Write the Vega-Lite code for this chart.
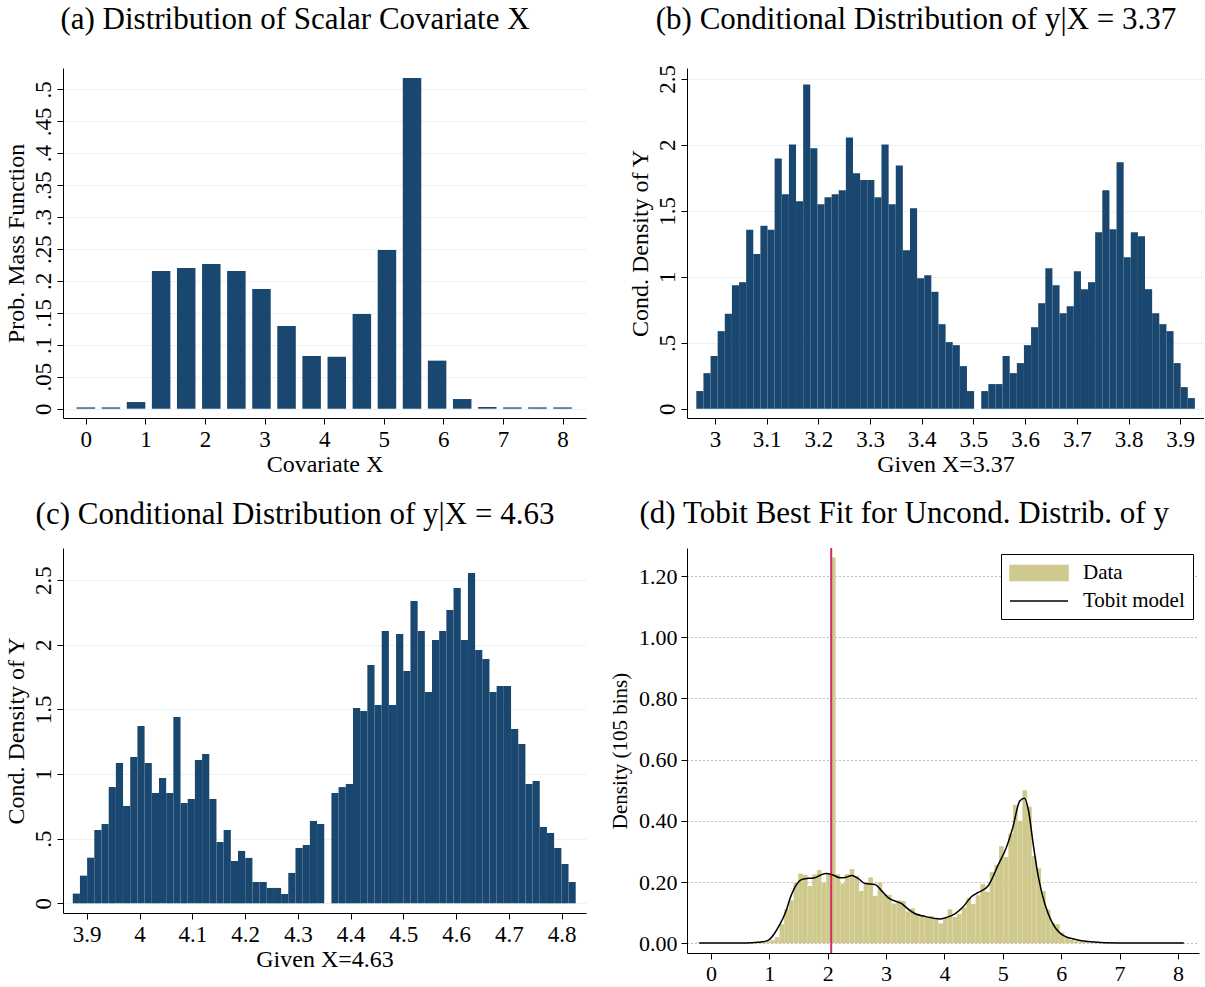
{
  "$schema": "https://vega.github.io/schema/vega-lite/v6.json",
  "padding": {"left": 4, "top": 4, "right": 0, "bottom": 0},
  "autosize": {"type": "pad"},
  "config": {
    "font": "Liberation Serif",
    "view": {"stroke": null},
    "title": {"font": "Liberation Serif", "fontSize": 31, "fontWeight": "normal", "color": "black", "frame": "bounds", "anchor": "middle"},
    "axis": {"labelFont": "Liberation Serif", "titleFont": "Liberation Serif", "labelColor": "black", "titleColor": "black", "domainColor": "black", "tickColor": "black", "tickSize": 6, "titleFontWeight": "normal", "labelFontSize": 23, "titleFontSize": 24, "gridColor": "#eaf2f3", "gridWidth": 1, "labelFlush": false, "labelOverlap": false, "format": "~g"},
    "axisX": {"grid": false, "labelPadding": 4, "titlePadding": 1},
    "axisY": {"grid": true, "labelAngle": -90, "labelAlign": "center", "labelBaseline": "alphabetic", "labelPadding": 7, "titlePadding": 4}
  },
  "datasets": {
    "pmf": [{"x":0,"p":0.002},{"x":0.421,"p":0.002},{"x":0.842,"p":0.0104},{"x":1.263,"p":0.2156},{"x":1.684,"p":0.2203},{"x":2.105,"p":0.2265},{"x":2.526,"p":0.2156},{"x":2.947,"p":0.1874},{"x":3.368,"p":0.1294},{"x":3.789,"p":0.0825},{"x":4.211,"p":0.0814},{"x":4.632,"p":0.1482},{"x":5.053,"p":0.2484},{"x":5.474,"p":0.5177},{"x":5.895,"p":0.0752},{"x":6.316,"p":0.0151},{"x":6.737,"p":0.0026},{"x":7.158,"p":0.002},{"x":7.579,"p":0.002},{"x":8,"p":0.002}],
    "condB": [
      {"lo":2.9640,"hi":2.9778,"d":0.134},{"lo":2.9778,"hi":2.9916,"d":0.27},{"lo":2.9916,"hi":3.0053,"d":0.40},{"lo":3.0053,"hi":3.0191,"d":0.588},{"lo":3.0191,"hi":3.0329,"d":0.72},{"lo":3.0329,"hi":3.0467,"d":0.936},{"lo":3.0467,"hi":3.0604,"d":0.959},{"lo":3.0604,"hi":3.0742,"d":1.357},{"lo":3.0742,"hi":3.0880,"d":1.173},{"lo":3.0880,"hi":3.1018,"d":1.387},
      {"lo":3.1018,"hi":3.1155,"d":1.357},{"lo":3.1155,"hi":3.1293,"d":1.897},{"lo":3.1293,"hi":3.1431,"d":1.625},{"lo":3.1431,"hi":3.1569,"d":2.003},{"lo":3.1569,"hi":3.1707,"d":1.572},{"lo":3.1707,"hi":3.1844,"d":2.457},{"lo":3.1844,"hi":3.1982,"d":1.973},{"lo":3.1982,"hi":3.2120,"d":1.549},{"lo":3.2120,"hi":3.2258,"d":1.602},{"lo":3.2258,"hi":3.2395,"d":1.625},
      {"lo":3.2395,"hi":3.2533,"d":1.655},{"lo":3.2533,"hi":3.2671,"d":2.056},{"lo":3.2671,"hi":3.2809,"d":1.784},{"lo":3.2809,"hi":3.2946,"d":1.733},{"lo":3.2946,"hi":3.3084,"d":1.733},{"lo":3.3084,"hi":3.3222,"d":1.602},{"lo":3.3222,"hi":3.3360,"d":2.003},{"lo":3.3360,"hi":3.3498,"d":1.549},{"lo":3.3498,"hi":3.3635,"d":1.844},{"lo":3.3635,"hi":3.3773,"d":1.201},
      {"lo":3.3773,"hi":3.3911,"d":1.519},{"lo":3.3911,"hi":3.4049,"d":0.989},{"lo":3.4049,"hi":3.4186,"d":1.012},{"lo":3.4186,"hi":3.4324,"d":0.886},{"lo":3.4324,"hi":3.4462,"d":0.641},{"lo":3.4462,"hi":3.4600,"d":0.505},{"lo":3.4600,"hi":3.4737,"d":0.482},{"lo":3.4737,"hi":3.4875,"d":0.323},{"lo":3.4875,"hi":3.5013,"d":0.134},
      {"lo":3.5151,"hi":3.5289,"d":0.134},{"lo":3.5289,"hi":3.5426,"d":0.187},{"lo":3.5426,"hi":3.5564,"d":0.187},{"lo":3.5564,"hi":3.5702,"d":0.40},{"lo":3.5702,"hi":3.5840,"d":0.27},{"lo":3.5840,"hi":3.5977,"d":0.346},{"lo":3.5977,"hi":3.6115,"d":0.482},{"lo":3.6115,"hi":3.6253,"d":0.618},{"lo":3.6253,"hi":3.6391,"d":0.80},{"lo":3.6391,"hi":3.6528,"d":1.065},
      {"lo":3.6528,"hi":3.6666,"d":0.936},{"lo":3.6666,"hi":3.6804,"d":0.724},{"lo":3.6804,"hi":3.6942,"d":0.777},{"lo":3.6942,"hi":3.7080,"d":1.042},{"lo":3.7080,"hi":3.7217,"d":0.906},{"lo":3.7217,"hi":3.7355,"d":0.959},{"lo":3.7355,"hi":3.7493,"d":1.337},{"lo":3.7493,"hi":3.7631,"d":1.655},{"lo":3.7631,"hi":3.7768,"d":1.36},{"lo":3.7768,"hi":3.7906,"d":1.867},
      {"lo":3.7906,"hi":3.8044,"d":1.148},{"lo":3.8044,"hi":3.8182,"d":1.337},{"lo":3.8182,"hi":3.8319,"d":1.307},{"lo":3.8319,"hi":3.8457,"d":0.906},{"lo":3.8457,"hi":3.8595,"d":0.724},{"lo":3.8595,"hi":3.8733,"d":0.641},{"lo":3.8733,"hi":3.8871,"d":0.588},{"lo":3.8871,"hi":3.9008,"d":0.346},{"lo":3.9008,"hi":3.9146,"d":0.164},{"lo":3.9146,"hi":3.9284,"d":0.081}
    ],
    "condC": [
      {"lo":3.8735,"hi":3.8871,"d":0.075},{"lo":3.8871,"hi":3.9007,"d":0.214},{"lo":3.9007,"hi":3.9143,"d":0.353},{"lo":3.9143,"hi":3.9280,"d":0.567},{"lo":3.9280,"hi":3.9416,"d":0.613},{"lo":3.9416,"hi":3.9552,"d":0.899},{"lo":3.9552,"hi":3.9688,"d":1.085},{"lo":3.9688,"hi":3.9824,"d":0.753},{"lo":3.9824,"hi":3.9960,"d":1.131},{"lo":3.9960,"hi":4.0096,"d":1.371},
      {"lo":4.0096,"hi":4.0233,"d":1.085},{"lo":4.0233,"hi":4.0369,"d":0.853},{"lo":4.0369,"hi":4.0505,"d":0.969},{"lo":4.0505,"hi":4.0641,"d":0.853},{"lo":4.0641,"hi":4.0777,"d":1.441},{"lo":4.0777,"hi":4.0913,"d":0.776},{"lo":4.0913,"hi":4.1049,"d":0.807},{"lo":4.1049,"hi":4.1186,"d":1.108},{"lo":4.1186,"hi":4.1322,"d":1.155},{"lo":4.1322,"hi":4.1458,"d":0.807},
      {"lo":4.1458,"hi":4.1594,"d":0.474},{"lo":4.1594,"hi":4.1730,"d":0.567},{"lo":4.1730,"hi":4.1866,"d":0.327},{"lo":4.1866,"hi":4.2002,"d":0.405},{"lo":4.2002,"hi":4.2139,"d":0.351},{"lo":4.2139,"hi":4.2275,"d":0.165},{"lo":4.2275,"hi":4.2411,"d":0.165},{"lo":4.2411,"hi":4.2547,"d":0.119},{"lo":4.2547,"hi":4.2683,"d":0.119},{"lo":4.2683,"hi":4.2819,"d":0.072},
      {"lo":4.2819,"hi":4.2955,"d":0.235},{"lo":4.2955,"hi":4.3092,"d":0.428},{"lo":4.3092,"hi":4.3228,"d":0.451},{"lo":4.3228,"hi":4.3364,"d":0.637},{"lo":4.3364,"hi":4.3500,"d":0.613},
      {"lo":4.3636,"hi":4.3772,"d":0.853},{"lo":4.3772,"hi":4.3908,"d":0.899},{"lo":4.3908,"hi":4.4045,"d":0.923},{"lo":4.4045,"hi":4.4181,"d":1.510},
      {"lo":4.4181,"hi":4.4317,"d":1.487},{"lo":4.4317,"hi":4.4453,"d":1.843},{"lo":4.4453,"hi":4.4589,"d":1.534},{"lo":4.4589,"hi":4.4725,"d":2.106},{"lo":4.4725,"hi":4.4861,"d":1.534},{"lo":4.4861,"hi":4.4998,"d":2.082},{"lo":4.4998,"hi":4.5134,"d":1.796},{"lo":4.5134,"hi":4.5270,"d":2.338},{"lo":4.5270,"hi":4.5406,"d":2.106},{"lo":4.5406,"hi":4.5542,"d":1.634},
      {"lo":4.5542,"hi":4.5678,"d":2.036},{"lo":4.5678,"hi":4.5814,"d":2.106},{"lo":4.5814,"hi":4.5950,"d":2.268},{"lo":4.5950,"hi":4.6087,"d":2.438},{"lo":4.6087,"hi":4.6223,"d":2.036},{"lo":4.6223,"hi":4.6359,"d":2.554},{"lo":4.6359,"hi":4.6495,"d":1.959},{"lo":4.6495,"hi":4.6631,"d":1.889},{"lo":4.6631,"hi":4.6767,"d":1.634},{"lo":4.6767,"hi":4.6903,"d":1.68},
      {"lo":4.6903,"hi":4.7040,"d":1.68},{"lo":4.7040,"hi":4.7176,"d":1.348},{"lo":4.7176,"hi":4.7312,"d":1.232},{"lo":4.7312,"hi":4.7448,"d":0.923},{"lo":4.7448,"hi":4.7584,"d":0.946},{"lo":4.7584,"hi":4.7720,"d":0.590},{"lo":4.7720,"hi":4.7856,"d":0.544},{"lo":4.7856,"hi":4.7993,"d":0.428},{"lo":4.7993,"hi":4.8129,"d":0.304},{"lo":4.8129,"hi":4.8265,"d":0.165}
    ],
    "hist": [
      {"a":-0.265,"b":-0.185,"d":0.002},{"a":-0.185,"b":-0.105,"d":0.002},{"a":-0.105,"b":-0.025,"d":0.002},{"a":-0.025,"b":0.055,"d":0.002},{"a":0.055,"b":0.135,"d":0.002},{"a":0.135,"b":0.215,"d":0.002},{"a":0.215,"b":0.295,"d":0.002},{"a":0.295,"b":0.375,"d":0.002},{"a":0.375,"b":0.455,"d":0.002},{"a":0.455,"b":0.535,"d":0.002},
      {"a":0.535,"b":0.615,"d":0.002},{"a":0.615,"b":0.695,"d":0.002},{"a":0.695,"b":0.775,"d":0.002},{"a":0.775,"b":0.855,"d":0.003},{"a":0.855,"b":0.935,"d":0.005},{"a":0.935,"b":1.015,"d":0.006},{"a":1.015,"b":1.095,"d":0.01},{"a":1.095,"b":1.175,"d":0.02},{"a":1.175,"b":1.255,"d":0.062},{"a":1.255,"b":1.335,"d":0.111},
      {"a":1.335,"b":1.415,"d":0.14},{"a":1.415,"b":1.495,"d":0.198},{"a":1.495,"b":1.575,"d":0.228},{"a":1.575,"b":1.655,"d":0.223},{"a":1.655,"b":1.735,"d":0.187},{"a":1.735,"b":1.815,"d":0.225},{"a":1.815,"b":1.895,"d":0.239},{"a":1.895,"b":1.975,"d":0.198},{"a":1.975,"b":2.055,"d":0.228},{"a":2.055,"b":2.135,"d":1.261},
      {"a":2.135,"b":2.215,"d":0.225},{"a":2.215,"b":2.295,"d":0.195},{"a":2.295,"b":2.375,"d":0.226},{"a":2.375,"b":2.455,"d":0.242},{"a":2.455,"b":2.535,"d":0.22},{"a":2.535,"b":2.615,"d":0.171},{"a":2.615,"b":2.695,"d":0.2},{"a":2.695,"b":2.775,"d":0.215},{"a":2.775,"b":2.855,"d":0.155},{"a":2.855,"b":2.935,"d":0.198},
      {"a":2.935,"b":3.015,"d":0.16},{"a":3.015,"b":3.095,"d":0.158},{"a":3.095,"b":3.175,"d":0.13},{"a":3.175,"b":3.255,"d":0.14},{"a":3.255,"b":3.335,"d":0.138},{"a":3.335,"b":3.415,"d":0.104},{"a":3.415,"b":3.495,"d":0.114},{"a":3.495,"b":3.575,"d":0.095},{"a":3.575,"b":3.655,"d":0.089},{"a":3.655,"b":3.735,"d":0.086},
      {"a":3.735,"b":3.815,"d":0.089},{"a":3.815,"b":3.895,"d":0.078},{"a":3.895,"b":3.975,"d":0.065},{"a":3.975,"b":4.055,"d":0.084},{"a":4.055,"b":4.135,"d":0.111},{"a":4.135,"b":4.215,"d":0.086},{"a":4.215,"b":4.295,"d":0.095},{"a":4.295,"b":4.375,"d":0.117},{"a":4.375,"b":4.455,"d":0.148},{"a":4.455,"b":4.535,"d":0.128},
      {"a":4.535,"b":4.615,"d":0.157},{"a":4.615,"b":4.695,"d":0.193},{"a":4.695,"b":4.775,"d":0.168},{"a":4.775,"b":4.855,"d":0.233},{"a":4.855,"b":4.935,"d":0.256},{"a":4.935,"b":5.015,"d":0.317},{"a":5.015,"b":5.095,"d":0.282},{"a":5.095,"b":5.175,"d":0.358},{"a":5.175,"b":5.255,"d":0.452},{"a":5.255,"b":5.335,"d":0.40},
      {"a":5.335,"b":5.415,"d":0.50},{"a":5.415,"b":5.495,"d":0.446},{"a":5.495,"b":5.575,"d":0.285},{"a":5.575,"b":5.655,"d":0.245},{"a":5.655,"b":5.735,"d":0.171},{"a":5.735,"b":5.815,"d":0.11},{"a":5.815,"b":5.895,"d":0.067},{"a":5.895,"b":5.975,"d":0.062},{"a":5.975,"b":6.055,"d":0.035},{"a":6.055,"b":6.135,"d":0.02},
      {"a":6.135,"b":6.215,"d":0.012},{"a":6.215,"b":6.295,"d":0.007},{"a":6.295,"b":6.375,"d":0.005},{"a":6.375,"b":6.455,"d":0.004},{"a":6.455,"b":6.535,"d":0.002},{"a":6.535,"b":6.615,"d":0.002},{"a":6.615,"b":6.695,"d":0.002},{"a":6.695,"b":6.775,"d":0.002},{"a":6.775,"b":6.855,"d":0.002},{"a":6.855,"b":6.935,"d":0.002},
      {"a":6.935,"b":7.015,"d":0.002},{"a":7.015,"b":7.095,"d":0.002},{"a":7.095,"b":7.175,"d":0.002},{"a":7.175,"b":7.255,"d":0.002},{"a":7.255,"b":7.335,"d":0.002},{"a":7.335,"b":7.415,"d":0.002},{"a":7.415,"b":7.495,"d":0.002},{"a":7.495,"b":7.575,"d":0.002},{"a":7.575,"b":7.655,"d":0.002},{"a":7.655,"b":7.735,"d":0.002},
      {"a":7.735,"b":7.815,"d":0.002},{"a":7.815,"b":7.895,"d":0.002},{"a":7.895,"b":7.975,"d":0.002},{"a":7.975,"b":8.055,"d":0.002},{"a":8.055,"b":8.135,"d":0.002}
    ],
    "tobit": [
      {"x":-0.2,"y":0.0005},{"x":0.3,"y":0.0006},{"x":0.6,"y":0.001},{"x":0.8,"y":0.003},{"x":0.925,"y":0.006},{"x":1.0,"y":0.012},{"x":1.1,"y":0.035},{"x":1.17,"y":0.058},{"x":1.24,"y":0.084},{"x":1.3,"y":0.113},{"x":1.35,"y":0.144},{"x":1.41,"y":0.172},{"x":1.47,"y":0.193},{"x":1.55,"y":0.208},{"x":1.67,"y":0.212},{"x":1.78,"y":0.214},{"x":1.87,"y":0.222},{"x":1.98,"y":0.228},{"x":2.09,"y":0.223},{"x":2.21,"y":0.214},{"x":2.32,"y":0.216},{"x":2.41,"y":0.221},{"x":2.52,"y":0.212},{"x":2.64,"y":0.195},{"x":2.81,"y":0.192},{"x":2.92,"y":0.172},{"x":3.04,"y":0.148},{"x":3.18,"y":0.136},{"x":3.26,"y":0.13},{"x":3.32,"y":0.121},{"x":3.4,"y":0.108},{"x":3.49,"y":0.097},{"x":3.66,"y":0.088},{"x":3.83,"y":0.081},{"x":3.92,"y":0.079},{"x":4.03,"y":0.084},{"x":4.18,"y":0.096},{"x":4.32,"y":0.119},{"x":4.46,"y":0.152},{"x":4.58,"y":0.166},{"x":4.75,"y":0.188},{"x":4.92,"y":0.256},{"x":5.06,"y":0.313},{"x":5.17,"y":0.378},{"x":5.29,"y":0.465},{"x":5.37,"y":0.474},{"x":5.44,"y":0.433},{"x":5.52,"y":0.324},{"x":5.61,"y":0.215},{"x":5.72,"y":0.128},{"x":5.83,"y":0.073},{"x":6.0,"y":0.03},{"x":6.23,"y":0.013},{"x":6.5,"y":0.005},{"x":7.0,"y":0.001},{"x":8.1,"y":0.0005}
    ],
    "ref": [{"x": 2.06}]
  },
  "bounds": "flush",
  "columns": 2,
  "spacing": {"row": 130, "column": 101},
  "resolve": {"scale": {"color": "independent"}, "legend": {"color": "independent"}},
  "concat": [
    {
      "width": 523, "height": 350,
      "title": {"text": "(a) Distribution of Scalar Covariate X", "offset": 32},
      "data": {"name": "pmf"},
      "mark": {"type": "bar", "size": 18.5, "color": "#1a476f"},
      "encoding": {
        "x": {"field": "x", "type": "quantitative", "scale": {"domain": [-0.30, 8.31], "nice": false, "zero": false}, "axis": {"values": [0,1,2,3,4,5,6,7,8], "title": "Covariate X"}},
        "y": {"field": "p", "type": "quantitative", "scale": {"domain": [-0.0146, 0.5334], "nice": false, "zero": false}, "axis": {"values": [0,0.05,0.1,0.15,0.2,0.25,0.3,0.35,0.4,0.45,0.5], "title": "Prob. Mass Function", "labelExpr": "datum.value == 0 ? '0' : substring(format(datum.value, '.2~f'), 1)"}},
        "y2": {"datum": 0}
      }
    },
    {
      "width": 517, "height": 350,
      "title": {"text": "(b) Conditional Distribution of y|X = 3.37", "offset": 28},
      "data": {"name": "condB"},
      "mark": {"type": "bar", "color": "#1a476f"},
      "encoding": {
        "x": {"field": "lo", "type": "quantitative", "scale": {"domain": [2.946, 3.946], "nice": false, "zero": false}, "axis": {"values": [3,3.1,3.2,3.3,3.4,3.5,3.6,3.7,3.8,3.9], "title": "Given X=3.37"}},
        "x2": {"field": "hi"},
        "y": {"field": "d", "type": "quantitative", "scale": {"domain": [-0.070, 2.582], "nice": false, "zero": false}, "axis": {"values": [0,0.5,1,1.5,2,2.5], "title": "Cond. Density of Y", "labelExpr": "datum.value > 0 && datum.value < 1 ? substring(format(datum.value, '~g'), 1) : format(datum.value, '~g')"}},
        "y2": {"datum": 0}
      }
    },
    {
      "width": 523, "height": 365,
      "title": {"text": "(c) Conditional Distribution of y|X = 4.63", "offset": 17},
      "data": {"name": "condC"},
      "mark": {"type": "bar", "color": "#1a476f"},
      "encoding": {
        "x": {"field": "lo", "type": "quantitative", "scale": {"domain": [3.855, 4.846], "nice": false, "zero": false}, "axis": {"values": [3.9,4,4.1,4.2,4.3,4.4,4.5,4.6,4.7,4.8], "title": "Given X=4.63"}},
        "x2": {"field": "hi"},
        "y": {"field": "d", "type": "quantitative", "scale": {"domain": [-0.075, 2.748], "nice": false, "zero": false}, "axis": {"values": [0,0.5,1,1.5,2,2.5], "title": "Cond. Density of Y", "labelExpr": "datum.value > 0 && datum.value < 1 ? substring(format(datum.value, '~g'), 1) : format(datum.value, '~g')"}},
        "y2": {"datum": 0}
      }
    },
    {
      "width": 512, "height": 405,
      "title": {"text": "(d) Tobit Best Fit for Uncond. Distrib. of y", "offset": 17},
      "layer": [
        {
          "data": {"name": "hist"},
          "mark": {"type": "bar", "color": "#d0c98d"},
          "encoding": {
            "x": {"field": "a", "type": "quantitative", "scale": {"domain": [-0.41, 8.36], "nice": false, "zero": false}, "axis": {"values": [0,1,2,3,4,5,6,7,8], "format": "d", "title": null, "labelFontSize": 22}},
            "x2": {"field": "b"},
            "y": {"field": "d", "type": "quantitative", "scale": {"domain": [-0.032, 1.292], "nice": false, "zero": false}, "axis": {"values": [0,0.2,0.4,0.6,0.8,1.0,1.2], "format": ".2f", "title": "Density (105 bins)", "titleFontSize": 21, "labelFontSize": 22, "labelAngle": 0, "labelAlign": "right", "labelBaseline": "middle", "labelPadding": 4, "gridDash": [1,3], "gridColor": "#808080", "titlePadding": 8}},
            "y2": {"datum": 0},
            "color": {"datum": "Data", "type": "nominal", "scale": {"domain": ["Data", "Tobit model"], "range": ["#d0c98d", "#000000"]},
              "legend": {"orient": "top-right", "offset": 6, "title": null, "strokeColor": "black", "fillColor": "white", "padding": 8, "labelFont": "Liberation Serif", "labelFontSize": 21, "labelColor": "black", "symbolSize": 400, "labelOffset": 52, "rowPadding": 6, "symbolType": "M-1,-0.75H4.8V0.75H-1Z",
                "encode": {"symbols": {"update": {
                  "shape": {"signal": "datum.value === 'Data' ? 'M-1,-0.75H4.8V0.75H-1Z' : 'M-1,0H4.8'"},
                  "fill": {"signal": "datum.value === 'Data' ? '#d0c98d' : 'transparent'"},
                  "stroke": {"signal": "datum.value === 'Data' ? 'transparent' : '#000000'"},
                  "strokeWidth": {"value": 1.5},
                  "opacity": {"value": 1}
                }}}
              }
            }
          }
        },
        {
          "data": {"name": "ref"},
          "mark": {"type": "rule", "color": "#d22d5b", "strokeWidth": 2},
          "encoding": {"x": {"field": "x", "type": "quantitative"}}
        },
        {
          "data": {"name": "tobit"},
          "mark": {"type": "line", "strokeWidth": 1.5, "interpolate": "monotone"},
          "encoding": {
            "x": {"field": "x", "type": "quantitative"},
            "y": {"field": "y", "type": "quantitative"},
            "color": {"datum": "Tobit model", "type": "nominal"}
          }
        }
      ]
    }
  ]
}
